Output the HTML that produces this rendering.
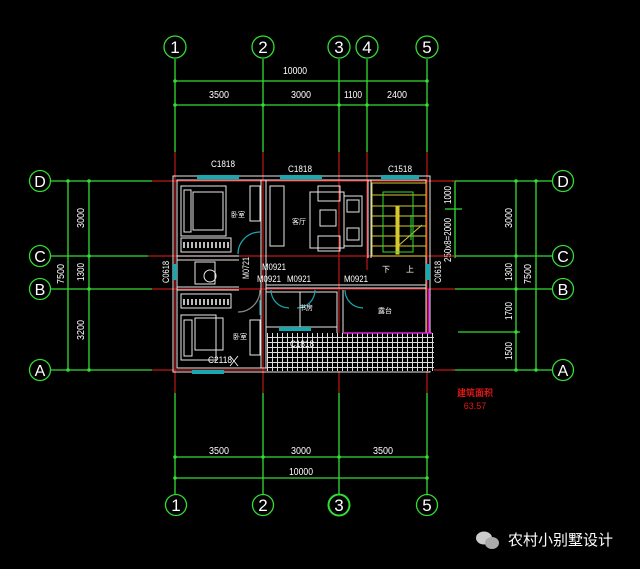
<!DOCTYPE html>
<html><head><meta charset="utf-8"><style>
html,body{margin:0;padding:0;background:#000;}
svg{display:block}
text{font-family:"Liberation Sans","Noto Sans CJK SC",sans-serif;}
</style></head><body>
<svg width="640" height="569" viewBox="0 0 640 569" xmlns="http://www.w3.org/2000/svg">
<rect width="640" height="569" fill="#000"/>
<g stroke="#33dd33" stroke-width="1.3" fill="none">
<line x1="175" y1="59" x2="175" y2="152"/><line x1="263" y1="59" x2="263" y2="152"/>
<line x1="339" y1="59" x2="339" y2="152"/><line x1="367" y1="59" x2="367" y2="152"/>
<line x1="427" y1="59" x2="427" y2="152"/>
<line x1="175" y1="81" x2="427" y2="81"/><line x1="175" y1="105" x2="427" y2="105"/>
<circle cx="175" cy="47" r="11"/><circle cx="263" cy="47" r="11"/><circle cx="339" cy="47" r="11"/>
<circle cx="367" cy="47" r="11"/><circle cx="427" cy="47" r="11"/>
<line x1="175" y1="393" x2="175" y2="494"/><line x1="263" y1="393" x2="263" y2="494"/>
<line x1="339" y1="393" x2="339" y2="494"/><line x1="427" y1="393" x2="427" y2="494"/>
<line x1="175" y1="457" x2="427" y2="457"/><line x1="175" y1="478" x2="427" y2="478"/>
<circle cx="176" cy="505" r="10.5"/><circle cx="263" cy="505" r="10.5"/><circle cx="339" cy="505" r="10.5" stroke-width="2"/><circle cx="427" cy="505" r="10.5"/>
<line x1="51" y1="181" x2="152" y2="181"/><line x1="51" y1="256" x2="148" y2="256"/>
<line x1="51" y1="289" x2="152" y2="289"/><line x1="51" y1="370" x2="152" y2="370"/>
<line x1="68" y1="181" x2="68" y2="370"/><line x1="89" y1="181" x2="89" y2="370"/>
<circle cx="40" cy="181" r="10.5"/><circle cx="40" cy="256" r="10.5"/><circle cx="40" cy="289" r="10.5"/><circle cx="40" cy="370" r="10.5"/>
<line x1="452" y1="181" x2="552" y2="181"/><line x1="452" y1="256" x2="552" y2="256"/>
<line x1="455" y1="289" x2="552" y2="289"/><line x1="458" y1="332" x2="520" y2="332"/>
<line x1="452" y1="370" x2="552" y2="370"/>
<line x1="516" y1="181" x2="516" y2="370"/><line x1="536" y1="181" x2="536" y2="370"/>
<line x1="455" y1="181" x2="455" y2="258"/><line x1="445" y1="209" x2="462" y2="209"/>
<circle cx="563" cy="181" r="10.5"/><circle cx="563" cy="256" r="10.5"/><circle cx="563" cy="289" r="10.5"/><circle cx="563" cy="370" r="10.5"/>
</g>
<g fill="#33dd33">
<circle cx="175" cy="81" r="1.8"/><circle cx="427" cy="81" r="1.8"/>
<circle cx="175" cy="105" r="1.8"/><circle cx="263" cy="105" r="1.8"/><circle cx="339" cy="105" r="1.8"/><circle cx="367" cy="105" r="1.8"/><circle cx="427" cy="105" r="1.8"/>
<circle cx="175" cy="457" r="1.8"/><circle cx="263" cy="457" r="1.8"/><circle cx="339" cy="457" r="1.8"/><circle cx="427" cy="457" r="1.8"/>
<circle cx="175" cy="478" r="1.8"/><circle cx="427" cy="478" r="1.8"/>
<circle cx="68" cy="181" r="1.8"/><circle cx="89" cy="181" r="1.8"/><circle cx="89" cy="256" r="1.8"/><circle cx="89" cy="289" r="1.8"/><circle cx="68" cy="370" r="1.8"/><circle cx="89" cy="370" r="1.8"/>
<circle cx="516" cy="181" r="1.8"/><circle cx="536" cy="181" r="1.8"/><circle cx="516" cy="256" r="1.8"/><circle cx="516" cy="289" r="1.8"/><circle cx="516" cy="332" r="1.8"/><circle cx="516" cy="370" r="1.8"/><circle cx="536" cy="370" r="1.8"/>
</g>
<g fill="#fff" font-size="17" text-anchor="middle">
<text x="175" y="53">1</text><text x="263" y="53">2</text><text x="339" y="53">3</text><text x="367" y="53">4</text><text x="427" y="53">5</text>
<text x="176" y="511">1</text><text x="263" y="511">2</text><text x="339" y="511">3</text><text x="427" y="511">5</text>
<g font-family="Liberation Serif" font-size="16"><text x="40" y="187">D</text><text x="40" y="262">C</text><text x="40" y="295">B</text><text x="40" y="376">A</text>
<text x="563" y="187">D</text><text x="563" y="262">C</text><text x="563" y="295">B</text><text x="563" y="376">A</text></g>
</g>
<g fill="#fff" font-size="10" text-anchor="middle">
<text x="295" y="74" textLength="24" lengthAdjust="spacingAndGlyphs">10000</text>
<text x="219" y="98" textLength="20" lengthAdjust="spacingAndGlyphs">3500</text>
<text x="301" y="98" textLength="20" lengthAdjust="spacingAndGlyphs">3000</text>
<text x="353" y="98" textLength="18" lengthAdjust="spacingAndGlyphs">1100</text>
<text x="397" y="98" textLength="20" lengthAdjust="spacingAndGlyphs">2400</text>
<text x="219" y="454" textLength="20" lengthAdjust="spacingAndGlyphs">3500</text>
<text x="301" y="454" textLength="20" lengthAdjust="spacingAndGlyphs">3000</text>
<text x="383" y="454" textLength="20" lengthAdjust="spacingAndGlyphs">3500</text>
<text x="301" y="475" textLength="24" lengthAdjust="spacingAndGlyphs">10000</text>
<text transform="translate(84,218) rotate(-90)" textLength="20" lengthAdjust="spacingAndGlyphs">3000</text>
<text transform="translate(84,272) rotate(-90)" textLength="18" lengthAdjust="spacingAndGlyphs">1300</text>
<text transform="translate(84,330) rotate(-90)" textLength="20" lengthAdjust="spacingAndGlyphs">3200</text>
<text transform="translate(64,274) rotate(-90)" textLength="20" lengthAdjust="spacingAndGlyphs">7500</text>
<text transform="translate(512,218) rotate(-90)" textLength="20" lengthAdjust="spacingAndGlyphs">3000</text>
<text transform="translate(512,272) rotate(-90)" textLength="18" lengthAdjust="spacingAndGlyphs">1300</text>
<text transform="translate(512,311) rotate(-90)" textLength="18" lengthAdjust="spacingAndGlyphs">1700</text>
<text transform="translate(512,351) rotate(-90)" textLength="18" lengthAdjust="spacingAndGlyphs">1500</text>
<text transform="translate(531,274) rotate(-90)" textLength="20" lengthAdjust="spacingAndGlyphs">7500</text>
<text transform="translate(451,195) rotate(-90)" textLength="18" lengthAdjust="spacingAndGlyphs">1000</text>
<text transform="translate(451,240) rotate(-90)" textLength="44" lengthAdjust="spacingAndGlyphs">250x8=2000</text>
</g>
<g stroke="#c01818" stroke-width="1.2">
<line x1="152" y1="181" x2="455" y2="181"/><line x1="148" y1="256" x2="455" y2="256"/>
<line x1="152" y1="289" x2="455" y2="289"/><line x1="152" y1="370" x2="455" y2="370"/>
<line x1="175" y1="152" x2="175" y2="393"/><line x1="263" y1="152" x2="263" y2="393"/>
<line x1="339" y1="152" x2="339" y2="393"/><line x1="367" y1="152" x2="367" y2="270"/>
<line x1="427" y1="152" x2="427" y2="393"/>
</g>
<g stroke="#e8e8e8" stroke-width="1" fill="none">
<rect x="173" y="176" width="257" height="196"/>
<rect x="177" y="180" width="249" height="188"/>
<line x1="261" y1="180" x2="261" y2="368"/><line x1="266" y1="180" x2="266" y2="368"/>
<line x1="177" y1="256" x2="239" y2="256"/><line x1="177" y1="260" x2="239" y2="260"/>
<line x1="177" y1="287" x2="239" y2="287"/><line x1="177" y1="290" x2="239" y2="290"/>
<line x1="368" y1="180" x2="368" y2="258"/><line x1="371" y1="180" x2="371" y2="258"/>
<line x1="266" y1="285" x2="426" y2="285"/><line x1="266" y1="288" x2="426" y2="288"/>
<line x1="266" y1="292" x2="337" y2="292"/><line x1="266" y1="327" x2="337" y2="327"/>
<line x1="337" y1="292" x2="337" y2="333"/><line x1="343" y1="290" x2="343" y2="333"/>
<rect x="300" y="292" width="37" height="35"/>
<rect x="181" y="186" width="45" height="50"/><rect x="193" y="192" width="30" height="38"/><rect x="184" y="190" width="7" height="42"/>
<rect x="181" y="238" width="50" height="14"/>
<rect x="250" y="186" width="10" height="35"/>
<rect x="181" y="294" width="50" height="14"/>
<rect x="181" y="315" width="35" height="45"/><rect x="195" y="318" width="28" height="32"/><rect x="184" y="320" width="8" height="36"/>
<rect x="250" y="320" width="10" height="35"/>
<rect x="195" y="262" width="20" height="22"/><circle cx="210" cy="276" r="6"/>
<rect x="270" y="186" width="14" height="60"/>
<rect x="310" y="192" width="34" height="56"/>
<rect x="318" y="186" width="22" height="15"/><rect x="318" y="236" width="22" height="15"/>
<rect x="344" y="196" width="18" height="50"/><rect x="347" y="200" width="12" height="12"/><rect x="347" y="228" width="12" height="12"/>
<rect x="320" y="210" width="16" height="16"/>
</g>
<g stroke="#ddd" stroke-width="1">
<path d="M183 245 H230 M183 302 H230" stroke-dasharray="2 2" stroke-width="6" stroke="#bbb"/>
</g>
<defs><pattern id="h" width="5" height="5" patternUnits="userSpaceOnUse"><rect width="5" height="5" fill="#000"/><path d="M0 2.5H5M2.5 0V5" stroke="#ddd" stroke-width="1"/></pattern></defs>
<rect x="267" y="333" width="167" height="38" fill="url(#h)"/>
<g stroke="#e020e0" stroke-width="1.5" fill="none"><path d="M343 333 H432 M429 289 V333"/></g>
<g fill="#1aa8b0">
<rect x="197" y="175" width="42" height="4"/><rect x="280" y="175" width="42" height="4"/><rect x="381" y="175" width="38" height="4"/>
<rect x="192" y="370" width="32" height="4"/><rect x="279" y="327" width="32" height="4"/>
<rect x="173" y="264" width="4" height="16"/><rect x="426" y="264" width="4" height="16"/>
</g>
<g stroke="#1aa8b0" stroke-width="1.2" fill="none">
<path d="M260 232 A22 22 0 0 0 238 254"/><path d="M260 290 A22 22 0 0 1 238 312" stroke="#888"/>
<path d="M271 290 A18 18 0 0 0 289 308"/><path d="M315 290 A18 18 0 0 1 297 308"/>
<path d="M345 290 A18 18 0 0 0 363 308"/><path d="M260 315 V300"/>
</g>
<g stroke="#d8c830" stroke-width="1" fill="none">
<rect x="372" y="183" width="54" height="73"/>
<line x1="372" y1="195" x2="426" y2="195"/><line x1="372" y1="206" x2="426" y2="206"/><line x1="372" y1="216" x2="426" y2="216"/>
<line x1="372" y1="226" x2="426" y2="226"/><line x1="372" y1="236" x2="426" y2="236"/><line x1="372" y1="246" x2="426" y2="246"/>
<rect x="396" y="206" width="3" height="48" fill="#d8c830"/>
<line x1="398" y1="246" x2="422" y2="225"/>
</g>
<g stroke="#33dd33" fill="none"><rect x="383" y="192" width="30" height="60"/><line x1="411" y1="215" x2="411" y2="240"/></g>
<g fill="#fff" font-size="9" text-anchor="middle">
<text x="223" y="167" textLength="24" lengthAdjust="spacingAndGlyphs">C1818</text>
<text x="300" y="172" textLength="24" lengthAdjust="spacingAndGlyphs">C1818</text>
<text x="400" y="172" textLength="24" lengthAdjust="spacingAndGlyphs">C1518</text>
<text x="274" y="270" textLength="24" lengthAdjust="spacingAndGlyphs">M0921</text>
<text x="269" y="282" textLength="24" lengthAdjust="spacingAndGlyphs">M0921</text>
<text x="299" y="282" textLength="24" lengthAdjust="spacingAndGlyphs">M0921</text>
<text x="356" y="282" textLength="24" lengthAdjust="spacingAndGlyphs">M0921</text>
<text x="302" y="347" textLength="24" lengthAdjust="spacingAndGlyphs">C1818</text>
<text x="220" y="363" textLength="24" lengthAdjust="spacingAndGlyphs">C2118</text>
<text transform="translate(169,272) rotate(-90)" textLength="22" lengthAdjust="spacingAndGlyphs">C0618</text>
<text transform="translate(441,272) rotate(-90)" textLength="22" lengthAdjust="spacingAndGlyphs">C0618</text>
<text transform="translate(249,268) rotate(-90)" textLength="22" lengthAdjust="spacingAndGlyphs">M0721</text>
<g font-size="7"><text x="238" y="217">卧室</text><text x="240" y="339">卧室</text><text x="299" y="224">客厅</text>
<text x="306" y="310">书房</text><text x="385" y="313">露台</text><text x="386" y="272" font-size="8">下</text><text x="410" y="272" font-size="8">上</text></g>
</g>
<g stroke="#fff" stroke-width="0.8"><line x1="230" y1="356" x2="238" y2="366"/><line x1="238" y1="356" x2="230" y2="366"/></g>
<g fill="#e01818" text-anchor="middle"><text x="475" y="396" font-size="9" font-weight="bold">建筑面积</text><text x="475" y="409" font-size="9">63.57</text></g>
<g fill="#ccc"><ellipse cx="484" cy="538" rx="8" ry="6.5"/><ellipse cx="492" cy="543" rx="7" ry="6" fill="#aaa"/></g>
<text x="508" y="545" fill="#fff" font-size="15">农村小别墅设计</text>
</svg>
</body></html>
